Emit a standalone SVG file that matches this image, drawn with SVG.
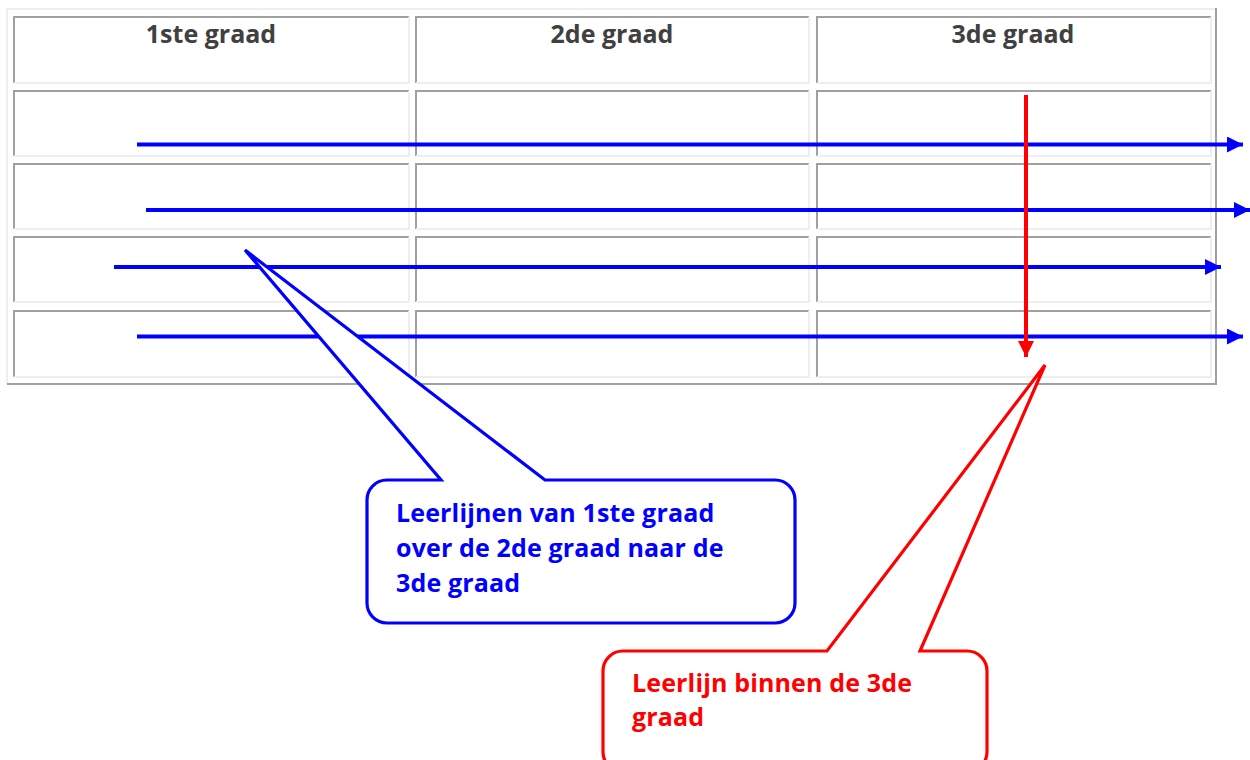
<svg xmlns="http://www.w3.org/2000/svg" width="1250" height="760" viewBox="0 0 1250 760">
  <defs>
    <style>
      .dark { fill: none; stroke: #a0a0a0; stroke-width: 2; }
      .light { fill: none; stroke: #eeeeee; stroke-width: 2; }
      .hdr { font-family: "Open Sans", "DejaVu Sans", sans-serif; font-weight: 700; font-size: 25px; fill: #404040; text-anchor: middle; }
      .blueline { stroke: #0000ff; stroke-width: 4; fill: none; }
      .redline { stroke: #ff0000; stroke-width: 4; fill: none; }
      .ctext { font-family: "Open Sans", "DejaVu Sans", sans-serif; font-weight: 700; font-size: 25px; letter-spacing: 0.15px; }
    </style>
    <marker id="ab" viewBox="0 0 16 16" refX="16" refY="8" markerWidth="16" markerHeight="16" markerUnits="userSpaceOnUse" orient="auto">
      <path d="M0,0 L16,8 L0,16 Z" fill="#0000ff"/>
    </marker>
    <marker id="ar" viewBox="0 0 16 16" refX="16" refY="8" markerWidth="16" markerHeight="16" markerUnits="userSpaceOnUse" orient="auto">
      <path d="M0,0 L16,8 L0,16 Z" fill="#ff0000"/>
    </marker>
  </defs>
  <rect width="1250" height="760" fill="#ffffff"/>

  <g id="table">
    <path class="light" d="M7,384 V9 H1216"/>
    <path class="dark" d="M1216,8 V384 H7"/>
    <g id="cells">
      <!-- header row -->
      <path class="dark" d="M14,83 V17 H409"/><path class="light" d="M409,17 V83 H14"/>
      <path class="dark" d="M416,83 V17 H809"/><path class="light" d="M809,17 V83 H416"/>
      <path class="dark" d="M817,83 V17 H1211"/><path class="light" d="M1211,17 V83 H817"/>
      <!-- row 1 -->
      <path class="dark" d="M14,156 V91 H409"/><path class="light" d="M409,91 V156 H14"/>
      <path class="dark" d="M416,156 V91 H809"/><path class="light" d="M809,91 V156 H416"/>
      <path class="dark" d="M817,156 V91 H1211"/><path class="light" d="M1211,91 V156 H817"/>
      <!-- row 2 -->
      <path class="dark" d="M14,229 V164 H409"/><path class="light" d="M409,164 V229 H14"/>
      <path class="dark" d="M416,229 V164 H809"/><path class="light" d="M809,164 V229 H416"/>
      <path class="dark" d="M817,229 V164 H1211"/><path class="light" d="M1211,164 V229 H817"/>
      <!-- row 3 -->
      <path class="dark" d="M14,302 V237 H409"/><path class="light" d="M409,237 V302 H14"/>
      <path class="dark" d="M416,302 V237 H809"/><path class="light" d="M809,237 V302 H416"/>
      <path class="dark" d="M817,302 V237 H1211"/><path class="light" d="M1211,237 V302 H817"/>
      <!-- row 4 -->
      <path class="dark" d="M14,377 V311 H409"/><path class="light" d="M409,311 V377 H14"/>
      <path class="dark" d="M416,377 V311 H809"/><path class="light" d="M809,311 V377 H416"/>
      <path class="dark" d="M817,377 V311 H1211"/><path class="light" d="M1211,311 V377 H817"/>
    </g>
    <text class="hdr" x="211" y="43">1ste graad</text>
    <text class="hdr" x="612" y="43">2de graad</text>
    <text class="hdr" x="1013" y="43">3de graad</text>
  </g>

  <g id="connectors">
    <line class="blueline" x1="137" y1="144.5" x2="1243" y2="144.5" marker-end="url(#ab)"/>
    <line class="blueline" x1="146" y1="210" x2="1250" y2="210" marker-end="url(#ab)"/>
    <line class="blueline" x1="114" y1="267" x2="1221" y2="267" marker-end="url(#ab)"/>
    <line class="blueline" x1="137" y1="336.5" x2="1243" y2="336.5" marker-end="url(#ab)"/>
    <line class="redline" x1="1026" y1="95" x2="1026" y2="357" marker-end="url(#ar)"/>
  </g>

  <g id="callout-blue">
    <path d="M387,480 H441 L245,250 L545,480 H775 A20,20 0 0 1 795,500 V603 A20,20 0 0 1 775,623 H387 A20,20 0 0 1 367,603 V500 A20,20 0 0 1 387,480 Z" fill="#ffffff" stroke="#0000ff" stroke-width="3.2" stroke-linejoin="miter"/>
    <text class="ctext" fill="#0000ff">
      <tspan x="396" y="521.5">Leerlijnen van 1ste graad</tspan>
      <tspan x="396" y="557">over de 2de graad naar de</tspan>
      <tspan x="396" y="592">3de graad</tspan>
    </text>
  </g>

  <g id="callout-red">
    <path d="M623,651 H827 L1045,365 L920,651 H967 A20,20 0 0 1 987,671 V752 A20,20 0 0 1 967,772 H623 A20,20 0 0 1 603,752 V671 A20,20 0 0 1 623,651 Z" fill="#ffffff" stroke="#ff0000" stroke-width="3.2"/>
    <text class="ctext" fill="#ff0000">
      <tspan x="632" y="691.5">Leerlijn binnen de 3de</tspan>
      <tspan x="632" y="726">graad</tspan>
    </text>
  </g>
</svg>
